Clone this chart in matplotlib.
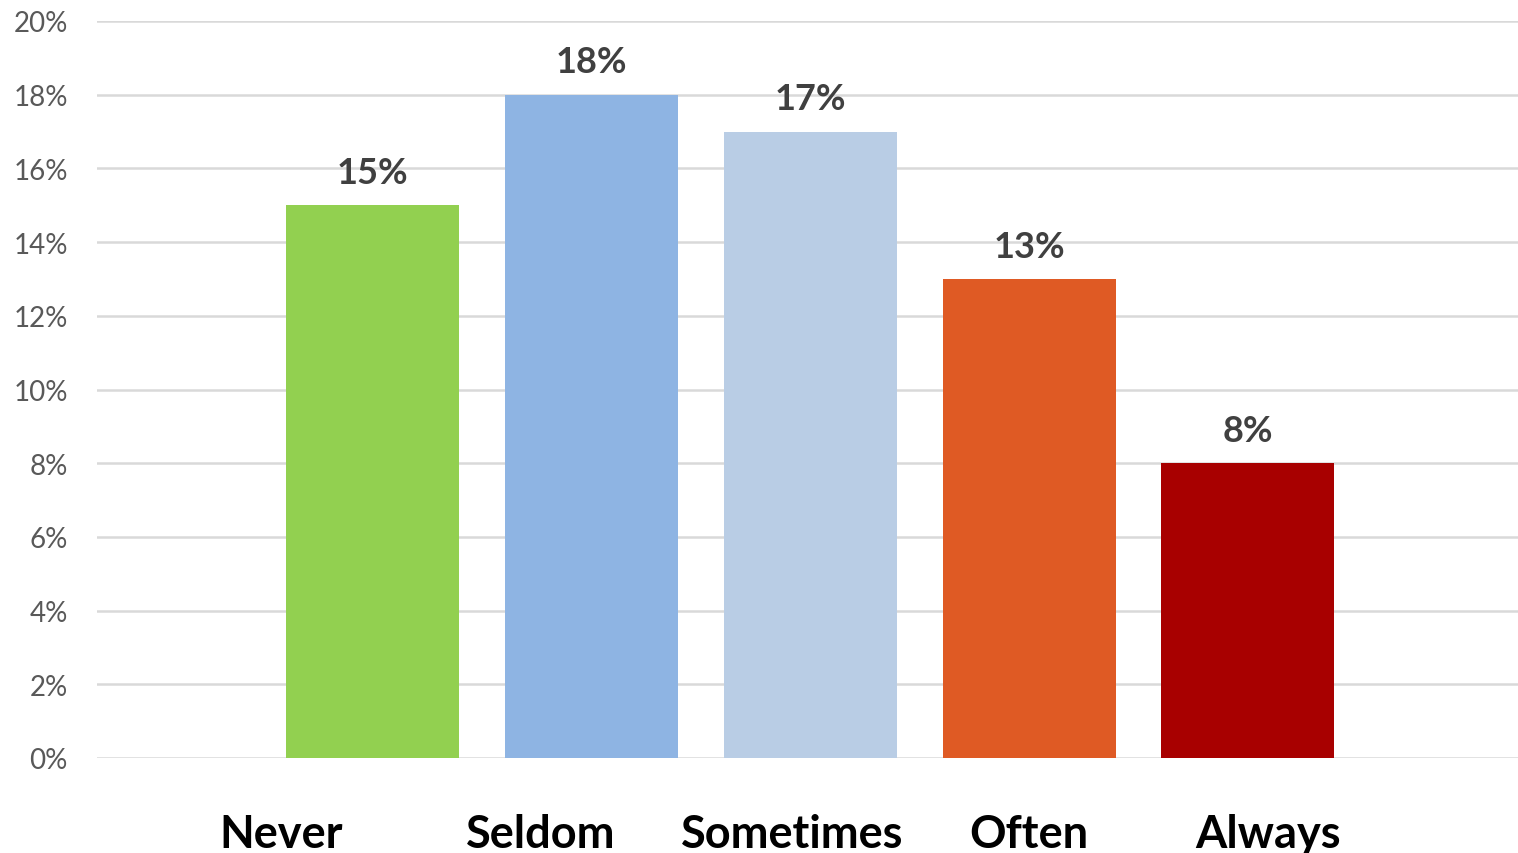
import matplotlib
matplotlib.use("Agg")
import matplotlib.pyplot as plt
from matplotlib.ticker import FuncFormatter, MultipleLocator

categories = ["Never", "Seldom", "Sometimes", "Often", "Always"]
values = [15, 18, 17, 13, 8]
colors = ["#92D050", "#8EB4E3", "#B9CDE5", "#DF5A24", "#A80000"]
label_offsets = [-0.416, -0.228, -0.082, 0.0, 0.09]  # category label shift vs bar centre (layout)

plt.rcParams['font.family'] = ['Lato', 'DejaVu Sans']

fig = plt.figure(figsize=(15.18, 8.54), dpi=100)
ax = fig.add_axes([97/1518, 1-759/854, 1-97/1518, (759-22)/854])

x = list(range(len(categories)))
bars = ax.bar(x, values, width=0.79, color=colors, zorder=3)

ax.set_ylim(0, 20)
ax.set_xlim(-1.256, 5.233)
ax.yaxis.set_major_locator(MultipleLocator(2))
ax.yaxis.set_major_formatter(FuncFormatter(lambda v, p: f"{int(v)}%"))
ax.grid(axis='y', color='#D9D9D9', linewidth=1.8, zorder=0)
for s in ax.spines.values():
    s.set_visible(False)
ax.tick_params(axis='y', length=0, pad=21, labelsize=20, labelcolor='#595959')
ax.tick_params(axis='x', length=0)
ax.set_xticks([])

for xi, v in zip(x, values):
    ax.annotate(f"{v}%", (xi, v), xytext=(0, 16), textcoords='offset points',
                ha='center', va='baseline', fontsize=26, fontweight='bold', color='#404040')

for xi, cat, off in zip(x, categories, label_offsets):
    ax.text(xi + off, -0.121, cat, transform=ax.get_xaxis_transform(),
            ha='center', va='baseline', fontsize=32.5, fontweight='bold', color='black')

fig.savefig("out.png", dpi=100)
